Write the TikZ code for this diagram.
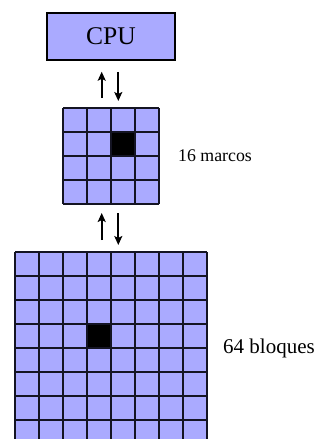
\documentclass[tikz,border=0pt]{standalone}
\usepackage{fontspec}
\setmainfont{Liberation Serif}
\usetikzlibrary{arrows.meta}
\definecolor{cellblue}{RGB}{170,170,255}
\definecolor{gridink}{RGB}{20,20,35}
\tikzset{
  cpubox/.style={draw=black, line width=1.5pt, fill=cellblue, inner sep=0pt},
  gridframe/.style={inner sep=0pt, outer sep=0pt},
  gridline/.style={draw=gridink, line width=2pt},
  xfer/.style={line width=1.7pt, -{Stealth[length=9pt,width=8pt,inset=2pt]}},
  sizelabel/.style={inner sep=0pt, anchor=west}
}
\begin{document}
\begin{tikzpicture}[x=1pt, y=-1pt]
\useasboundingbox (0,0) rectangle (320,439);
\clip (0,0) rectangle (320,439);

% processor
\node[cpubox, minimum width=128pt, minimum height=47pt,
      font=\fontsize{25.5}{30}\selectfont] (cpu) at (111,36.5) {CPU};

% 4x4 frame memory
\node[gridframe, minimum size=96pt] (frames) at (111,156) {};
\begin{scope}[shift={(frames.north west)}]
  \fill[cellblue] (0,0) rectangle (96,96);
  \fill[black] (48,24) rectangle (72,48);
  \foreach \k in {0,24,...,96} {
    \draw[gridline] (\k,0) -- (\k,96);
    \draw[gridline] (0,\k) -- (96,\k);
  }
\end{scope}
\node[sizelabel, font=\fontsize{17.8}{20}\selectfont] (nframes)
  at ([xshift=19pt]frames.east) {16 marcos};

% 8x8 block memory
\node[gridframe, minimum size=192pt] (blocks) at (111,348) {};
\begin{scope}[shift={(blocks.north west)}]
  \fill[cellblue] (0,0) rectangle (192,192);
  \fill[black] (72,72) rectangle (96,96);
  \foreach \k in {0,24,...,192} {
    \draw[gridline] (\k,0) -- (\k,192);
    \draw[gridline] (0,\k) -- (192,\k);
  }
\end{scope}
\node[sizelabel, font=\fontsize{21}{24}\selectfont] (nblocks)
  at ([xshift=16pt]blocks.east) {64 bloques};

% transfers
\draw[xfer] ([xshift=-9.3pt,yshift=10pt]frames.north) -- ([xshift=-9.3pt,yshift=-11pt]cpu.south);
\draw[xfer] ([xshift=7.3pt,yshift=-11pt]cpu.south) -- ([xshift=7.3pt,yshift=7pt]frames.north);
\draw[xfer] ([xshift=-9.3pt,yshift=12pt]blocks.north) -- ([xshift=-9.3pt,yshift=-9pt]frames.south);
\draw[xfer] ([xshift=7.3pt,yshift=-9pt]frames.south) -- ([xshift=7.3pt,yshift=7pt]blocks.north);
\end{tikzpicture}
\end{document}
